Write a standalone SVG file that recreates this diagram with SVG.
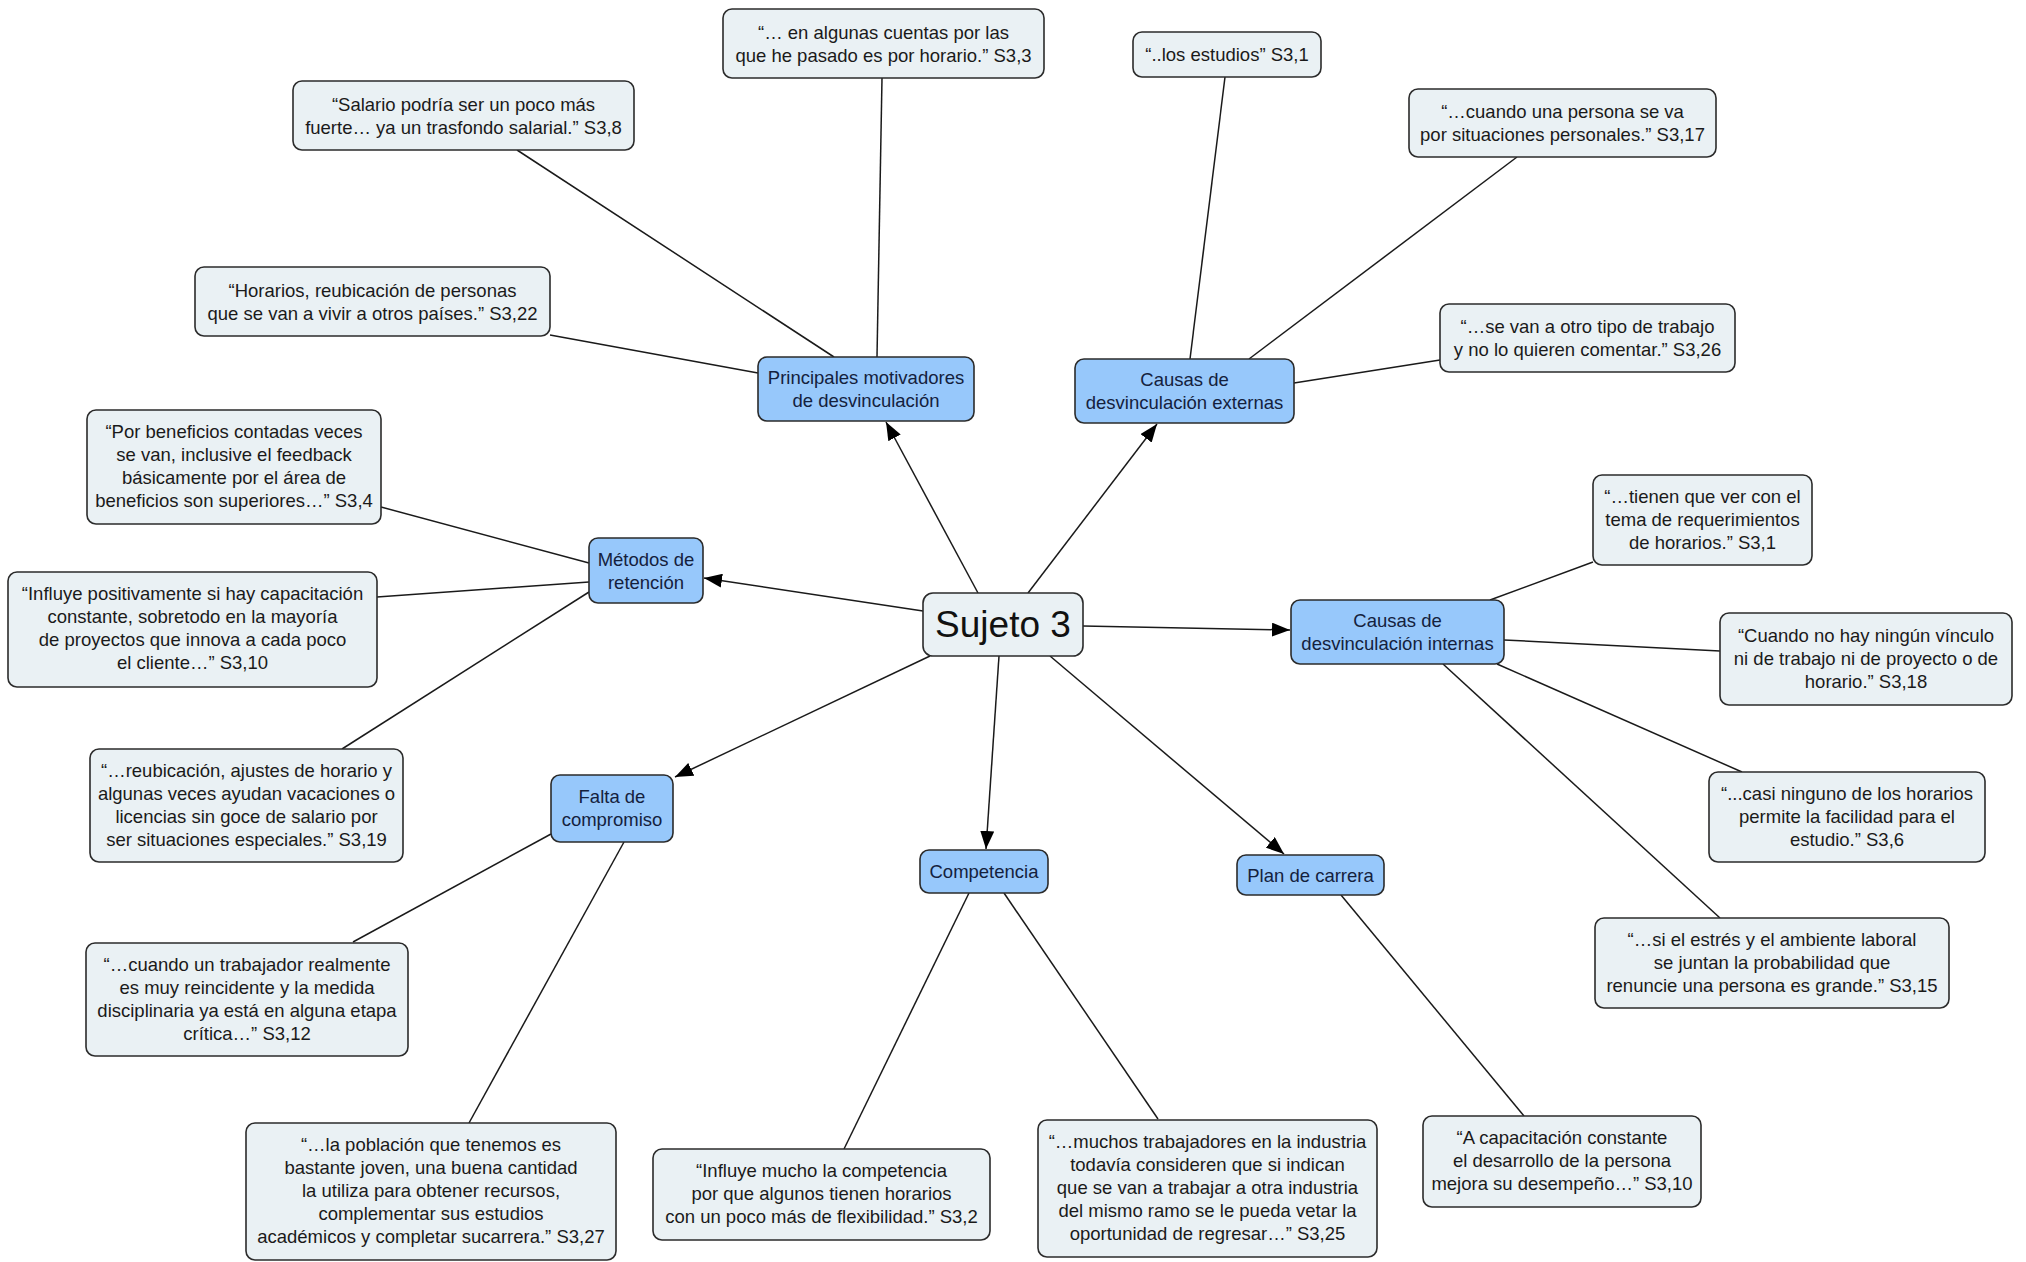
<svg xmlns="http://www.w3.org/2000/svg" width="2026" height="1262" viewBox="0 0 2026 1262">
<defs>
<marker id="ah" viewBox="0 0 18 14" refX="18" refY="7" markerWidth="18" markerHeight="14" markerUnits="userSpaceOnUse" orient="auto">
<path d="M0,0 L18,7 L0,14 Z" fill="#000"/>
</marker>
<style>
.q rect{fill:#eaf1f4;stroke:#2b2b2b;stroke-width:1.6}
.c rect{fill:#97c8fb;stroke:#2b2b2b;stroke-width:1.6}
.q text{font-family:"Liberation Sans",Arial,sans-serif;font-size:18.5px;fill:#1a1a1a;text-anchor:middle}
.c text{font-family:"Liberation Sans",Arial,sans-serif;font-size:18.5px;fill:#14213d;text-anchor:middle}
.m rect{fill:#eaf1f4;stroke:#2b2b2b;stroke-width:1.6}
.m text{font-family:"Liberation Sans",Arial,sans-serif;font-size:37px;fill:#111;text-anchor:middle}
#connectors line{stroke:#1a1a1a;stroke-width:1.5}
#connectors .a{marker-end:url(#ah)}
</style>
</defs>
<rect width="2026" height="1262" fill="#fff"/>
<g id="connectors">
<line x1="517" y1="150" x2="834" y2="357"/>
<line x1="550" y1="335" x2="758" y2="373"/>
<line x1="882" y1="78" x2="877" y2="357"/>
<line x1="1225" y1="77" x2="1190" y2="359"/>
<line x1="1517" y1="157" x2="1249" y2="359"/>
<line x1="1440" y1="360" x2="1294" y2="383"/>
<line x1="381" y1="507" x2="589" y2="563"/>
<line x1="377" y1="597" x2="589" y2="582"/>
<line x1="342" y1="749" x2="589" y2="592"/>
<line x1="353" y1="942" x2="551" y2="834"/>
<line x1="469" y1="1123" x2="624" y2="842"/>
<line x1="844" y1="1149" x2="969" y2="893"/>
<line x1="1158" y1="1119" x2="1004" y2="893"/>
<line x1="1524" y1="1116" x2="1341" y2="895"/>
<line x1="1593" y1="562" x2="1490" y2="600"/>
<line x1="1720" y1="651" x2="1504" y2="640"/>
<line x1="1742" y1="772" x2="1497" y2="664"/>
<line x1="1720" y1="918" x2="1443" y2="664"/>
<line class="a" x1="978" y1="593" x2="886" y2="422"/>
<line class="a" x1="1028" y1="593" x2="1157" y2="424"/>
<line class="a" x1="923" y1="611" x2="704" y2="578"/>
<line class="a" x1="1083" y1="626" x2="1290" y2="630"/>
<line class="a" x1="930" y1="656" x2="675" y2="777"/>
<line class="a" x1="999" y1="656" x2="986" y2="849"/>
<line class="a" x1="1050" y1="656" x2="1284" y2="854"/>
</g>
<g id="sujeto3" class="m"><rect x="923" y="593" width="160" height="63" rx="10"/><text x="1003" y="637">Sujeto 3</text></g>
<g id="principales" class="c"><rect x="758" y="357" width="216" height="64" rx="9"/><text x="866" y="384">Principales motivadores</text><text x="866" y="407">de desvinculación</text></g>
<g id="externas" class="c"><rect x="1075" y="359" width="219" height="64" rx="9"/><text x="1184.5" y="386">Causas de</text><text x="1184.5" y="409">desvinculación externas</text></g>
<g id="metodos" class="c"><rect x="589" y="538" width="114" height="65" rx="9"/><text x="646" y="566">Métodos de</text><text x="646" y="589">retención</text></g>
<g id="internas" class="c"><rect x="1291" y="600" width="213" height="64" rx="9"/><text x="1397.5" y="627">Causas de</text><text x="1397.5" y="650">desvinculación internas</text></g>
<g id="falta" class="c"><rect x="551" y="775" width="122" height="67" rx="9"/><text x="612" y="803">Falta de</text><text x="612" y="826">compromiso</text></g>
<g id="competencia" class="c"><rect x="920" y="850" width="128" height="43" rx="9"/><text x="984" y="878">Competencia</text></g>
<g id="plan" class="c"><rect x="1237" y="855" width="147" height="40" rx="9"/><text x="1310.5" y="882">Plan de carrera</text></g>
<g id="q-cuentas" class="q"><rect x="723" y="9" width="321" height="69" rx="9"/><text x="883.5" y="38.5">“… en algunas cuentas por las</text><text x="883.5" y="61.5">que he pasado es por horario.” S3,3</text></g>
<g id="q-estudios" class="q"><rect x="1133" y="32" width="188" height="45" rx="9"/><text x="1227" y="61">“..los estudios” S3,1</text></g>
<g id="q-salario" class="q"><rect x="293" y="81" width="341" height="69" rx="9"/><text x="463.5" y="110.5">“Salario podría ser un poco más</text><text x="463.5" y="133.5">fuerte… ya un trasfondo salarial.” S3,8</text></g>
<g id="q-personales" class="q"><rect x="1409" y="89" width="307" height="68" rx="9"/><text x="1562.5" y="118">“…cuando una persona se va</text><text x="1562.5" y="141">por situaciones personales.” S3,17</text></g>
<g id="q-horarios" class="q"><rect x="195" y="267" width="355" height="69" rx="9"/><text x="372.5" y="296.5">“Horarios, reubicación de personas</text><text x="372.5" y="319.5">que se van a vivir a otros países.” S3,22</text></g>
<g id="q-otrotipo" class="q"><rect x="1440" y="304" width="295" height="68" rx="9"/><text x="1587.5" y="333">“…se van a otro tipo de trabajo</text><text x="1587.5" y="356">y no lo quieren comentar.” S3,26</text></g>
<g id="q-beneficios" class="q"><rect x="87" y="410" width="294" height="114" rx="9"/><text x="234" y="438">“Por beneficios contadas veces</text><text x="234" y="461">se van, inclusive el feedback</text><text x="234" y="484">básicamente por el área de</text><text x="234" y="507">beneficios son superiores…” S3,4</text></g>
<g id="q-requerimientos" class="q"><rect x="1593" y="475" width="219" height="90" rx="9"/><text x="1702.5" y="503">“…tienen que ver con el</text><text x="1702.5" y="526">tema de requerimientos</text><text x="1702.5" y="549">de horarios.” S3,1</text></g>
<g id="q-capacitacion" class="q"><rect x="8" y="572" width="369" height="115" rx="9"/><text x="192.5" y="600">“Influye positivamente si hay capacitación</text><text x="192.5" y="623">constante, sobretodo en la mayoría</text><text x="192.5" y="646">de proyectos que innova a cada poco</text><text x="192.5" y="669">el cliente…” S3,10</text></g>
<g id="q-vinculo" class="q"><rect x="1720" y="613" width="292" height="92" rx="9"/><text x="1866" y="642">“Cuando no hay ningún vínculo</text><text x="1866" y="665">ni de trabajo ni de proyecto o de</text><text x="1866" y="688">horario.” S3,18</text></g>
<g id="q-reubicacion" class="q"><rect x="90" y="749" width="313" height="113" rx="9"/><text x="246.5" y="777">“…reubicación, ajustes de horario y</text><text x="246.5" y="800">algunas veces ayudan vacaciones o</text><text x="246.5" y="823">licencias sin goce de salario por</text><text x="246.5" y="846">ser situaciones especiales.” S3,19</text></g>
<g id="q-estudio" class="q"><rect x="1709" y="772" width="276" height="90" rx="9"/><text x="1847" y="800">“...casi ninguno de los horarios</text><text x="1847" y="823">permite la facilidad para el</text><text x="1847" y="846">estudio.” S3,6</text></g>
<g id="q-estres" class="q"><rect x="1595" y="918" width="354" height="90" rx="9"/><text x="1772" y="946">“…si el estrés y el ambiente laboral</text><text x="1772" y="969">se juntan la probabilidad que</text><text x="1772" y="992">renuncie una persona es grande.” S3,15</text></g>
<g id="q-trabajador" class="q"><rect x="86" y="943" width="322" height="113" rx="9"/><text x="247" y="971">“…cuando un trabajador realmente</text><text x="247" y="994">es muy reincidente y la medida</text><text x="247" y="1017">disciplinaria ya está en alguna etapa</text><text x="247" y="1040">crítica…” S3,12</text></g>
<g id="q-desarrollo" class="q"><rect x="1423" y="1116" width="278" height="91" rx="9"/><text x="1562" y="1144">“A capacitación constante</text><text x="1562" y="1167">el desarrollo de la persona</text><text x="1562" y="1190">mejora su desempeño…” S3,10</text></g>
<g id="q-industria" class="q"><rect x="1038" y="1120" width="339" height="137" rx="9"/><text x="1207.5" y="1148">“…muchos trabajadores en la industria</text><text x="1207.5" y="1171">todavía consideren que si indican</text><text x="1207.5" y="1194">que se van a trabajar a otra industria</text><text x="1207.5" y="1217">del mismo ramo se le pueda vetar la</text><text x="1207.5" y="1240">oportunidad de regresar…” S3,25</text></g>
<g id="q-poblacion" class="q"><rect x="246" y="1123" width="370" height="137" rx="9"/><text x="431" y="1151">“…la población que tenemos es</text><text x="431" y="1174">bastante joven, una buena cantidad</text><text x="431" y="1197">la utiliza para obtener recursos,</text><text x="431" y="1220">complementar sus estudios</text><text x="431" y="1243">académicos y completar sucarrera.” S3,27</text></g>
<g id="q-competencia" class="q"><rect x="653" y="1149" width="337" height="91" rx="9"/><text x="821.5" y="1177">“Influye mucho la competencia</text><text x="821.5" y="1200">por que algunos tienen horarios</text><text x="821.5" y="1223">con un poco más de flexibilidad.” S3,2</text></g>
</svg>
